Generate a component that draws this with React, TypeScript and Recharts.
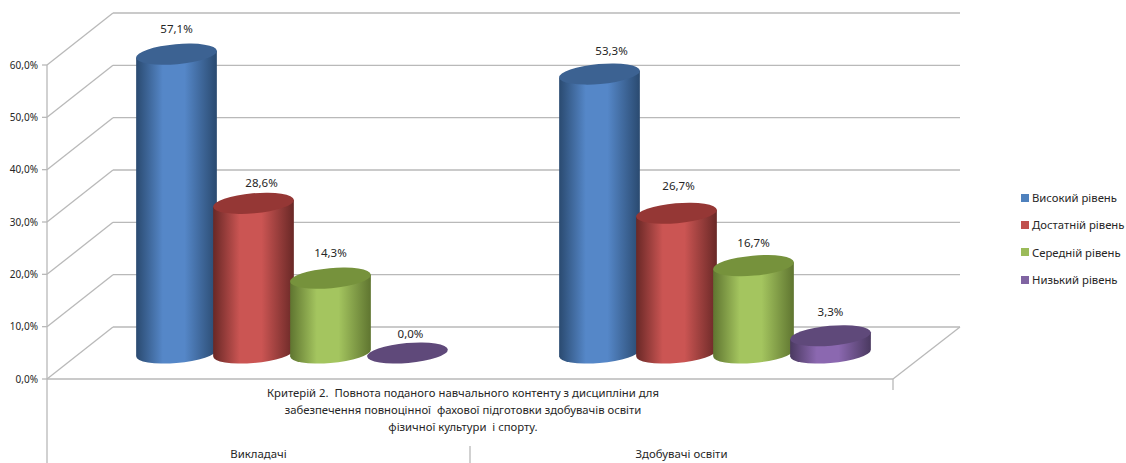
import React from "react";
import { ComposedChart, Bar, XAxis, YAxis, CartesianGrid, Legend, LabelList } from "recharts";

// Categories and the share of answers per level, in percent
const categories = ["Викладачі", "Здобувачі освіти"];
const highLevel = [57.1, 53.3];
const sufficientLevel = [28.6, 26.7];
const mediumLevel = [14.3, 16.7];
const lowLevel = [0, 3.3];
const yTicks = [0, 10, 20, 30, 40, 50, 60];
const captionLines = [
  "Критерій 2.  Повнота поданого навчального контенту з дисципліни для",
  "забезпечення повноцінної  фахової підготовки здобувачів освіти",
  "фізичної культури  і спорту.",
];

const tableData = categories.map((name, i) => ({
  name,
  high: highLevel[i],
  sufficient: sufficientLevel[i],
  medium: mediumLevel[i],
  low: lowLevel[i],
}));

const FONT = "'Noto Sans', sans-serif";
const TEXT = "#262626";
const WALL = "#b9b9b9";
const WIDTH = 1126;
const HEIGHT = 463;

// Oblique projection of the chart's depth axis
const DEPTH_X = 66;
const DEPTH_Y = 52;
const CATEGORY_HALF = 211.5;

// Cylinder footprint
const RX = 40.5;
const RY = 10;
const TILT = -5;

const series = [
  { key: "high", name: "Високий рівень", swatch: "#4f81bd", light: "#5587c8", dark: "#2a4a70", top: "#3c6292" },
  { key: "sufficient", name: "Достатній рівень", swatch: "#c0504d", light: "#cb5553", dark: "#692826", top: "#953735" },
  { key: "medium", name: "Середній рівень", swatch: "#9bbb59", light: "#a4c55f", dark: "#5f7530", top: "#76923c" },
  { key: "low", name: "Низький рівень", swatch: "#8064a2", light: "#8b68b0", dark: "#4a3960", top: "#5f497a" },
];

// Small per-label shifts where a value label sits off its cylinder's centre
const labelShift: Record<string, [number, number][]> = {
  high: [[0, -24], [12, -22]],
  sufficient: [[8, -19], [2, -26]],
  medium: [[0, -24], [0, -22]],
  low: [[3, -18], [0, -23]],
};

const formatPercent = (v: number) => `${v.toFixed(1).replace(".", ",")}%`;

function makeCylinder(palette: (typeof series)[number]) {
  return function Cylinder(props: any) {
    const { x, y, width, height } = props;
    const cx = x + width / 2 + DEPTH_X / 2;
    const topY = y - DEPTH_Y / 2;
    const bottomY = y + height - DEPTH_Y / 2;
    const th = (TILT * Math.PI) / 180;
    // Parameter of the ellipse's rightmost point gives the silhouette edges
    const t = Math.atan2(-RY * Math.sin(th), RX * Math.cos(th));
    const ex = RX * Math.cos(t) * Math.cos(th) - RY * Math.sin(t) * Math.sin(th);
    const ey = RX * Math.cos(t) * Math.sin(th) + RY * Math.sin(t) * Math.cos(th);
    const side = [
      `M${cx - ex},${topY - ey}`,
      `L${cx - ex},${bottomY - ey}`,
      `A${RX},${RY} ${TILT} 0 0 ${cx + ex},${bottomY + ey}`,
      `L${cx + ex},${topY + ey}`,
      "Z",
    ].join(" ");
    return (
      <g>
        {height > 0 && <path d={side} fill={`url(#side-${palette.key})`} />}
        <ellipse
          cx={cx}
          cy={topY}
          rx={RX}
          ry={RY}
          fill={palette.top}
          transform={`rotate(${TILT} ${cx} ${topY})`}
        />
      </g>
    );
  };
}

function makeValueLabel(key: string) {
  return function ValueLabel(props: any) {
    const { x, y, width, value, index } = props;
    const [sx, sy] = labelShift[key][index];
    return (
      <text
        x={x + width / 2 + DEPTH_X / 2 + sx}
        y={y - DEPTH_Y / 2 + sy}
        textAnchor="middle"
        dominantBaseline="middle"
        fontFamily={FONT}
        fontSize={11.5}
        fill={TEXT}
      >
        {formatPercent(value)}
      </text>
    );
  };
}

// Back wall line, side-wall diagonal and, at zero, the far edge of the floor
function WallLine(props: any) {
  const { x1, x2, y1, index } = props;
  return (
    <g stroke={WALL} strokeWidth={1.3} fill="none">
      <line x1={x1 + DEPTH_X} x2={x2 + DEPTH_X + 1} y1={y1 - DEPTH_Y} y2={y1 - DEPTH_Y} />
      <line x1={x1} y1={y1} x2={x1 + DEPTH_X} y2={y1 - DEPTH_Y} />
      {index === 0 && <line x1={x2} y1={y1} x2={x2 + DEPTH_X + 1} y2={y1 - DEPTH_Y} />}
    </g>
  );
}

// Category name below the axis, with the table borders that frame it
function CategoryTick(props: any) {
  const { x, y, payload, index } = props;
  const left = x - CATEGORY_HALF;
  const right = x + CATEGORY_HALF;
  return (
    <g>
      {index === 0 && <line x1={left} x2={left} y1={y} y2={HEIGHT} stroke={WALL} strokeWidth={1.3} />}
      {index === 1 && <line x1={left} x2={left} y1={446} y2={HEIGHT} stroke={WALL} strokeWidth={1.3} />}
      {index === 1 && <line x1={right} x2={right} y1={y} y2={y + 11} stroke={WALL} strokeWidth={1.3} />}
      <text x={x} y={455} textAnchor="middle" dominantBaseline="middle" fontFamily={FONT} fontSize={11.4} fill={TEXT}>
        {payload.value}
      </text>
    </g>
  );
}

function LegendList({ payload }: any) {
  return (
    <div style={{ fontFamily: FONT, fontSize: 11.3, color: TEXT }}>
      {(payload || []).map((item: any) => (
        <div key={item.value} style={{ display: "flex", alignItems: "center", height: 27.3 }}>
          <span style={{ width: 8, height: 8, background: item.color, marginRight: 3, flex: "none" }} />
          <span style={{ whiteSpace: "nowrap" }}>{item.value}</span>
        </div>
      ))}
    </div>
  );
}

export default function App() {
  return (
    <div style={{ position: "absolute", left: 0, top: 0, width: WIDTH, height: HEIGHT, overflow: "hidden" }}>
      <ComposedChart
        width={WIDTH}
        height={HEIGHT}
        data={tableData}
        margin={{ top: 65, right: 233, bottom: 0, left: 0 }}
        barGap={0}
        barSize={77}
      >
        <defs>
          {series.map((s) => (
            <linearGradient key={s.key} id={`side-${s.key}`} x1="0" y1="0" x2="1" y2="0">
              <stop offset="0" stopColor={s.dark} />
              <stop offset="0.33" stopColor={s.light} />
              <stop offset="0.6" stopColor={s.light} />
              <stop offset="1" stopColor={s.dark} />
            </linearGradient>
          ))}
        </defs>
        <CartesianGrid horizontal={WallLine as any} vertical={false} />
        <XAxis
          dataKey="name"
          height={84}
          interval={0}
          tickSize={0}
          tickMargin={0}
          tickLine={false}
          axisLine={{ stroke: WALL, strokeWidth: 1.3 }}
          tick={CategoryTick as any}
        />
        <YAxis
          width={47}
          domain={[0, 60]}
          ticks={yTicks}
          tickFormatter={formatPercent}
          tickSize={5}
          tickMargin={4}
          tickLine={{ stroke: WALL, strokeWidth: 1.3 }}
          axisLine={{ stroke: WALL, strokeWidth: 1.3 }}
          tick={{ fontFamily: FONT, fontSize: 10, fill: TEXT }}
        />
        <Legend
          layout="horizontal"
          align="center"
          verticalAlign="middle"
          itemSorter={null as any}
          content={LegendList as any}
          wrapperStyle={{ left: 1021, top: 184, width: 105, right: "auto", bottom: "auto" }}
        />
        {series.map((s) => (
          <Bar
            key={s.key}
            dataKey={s.key}
            name={s.name}
            fill={s.swatch}
            shape={makeCylinder(s) as any}
            isAnimationActive={false}
          >
            <LabelList dataKey={s.key} content={makeValueLabel(s.key) as any} />
          </Bar>
        ))}
        <g>
          {captionLines.map((line, i) => (
            <text
              key={line}
              x={463}
              y={394 + i * 17}
              textAnchor="middle"
              dominantBaseline="middle"
              fontFamily={FONT}
              fontSize={11.3}
              fill={TEXT}
              xmlSpace="preserve"
            >
              {line}
            </text>
          ))}
        </g>
      </ComposedChart>
    </div>
  );
}
